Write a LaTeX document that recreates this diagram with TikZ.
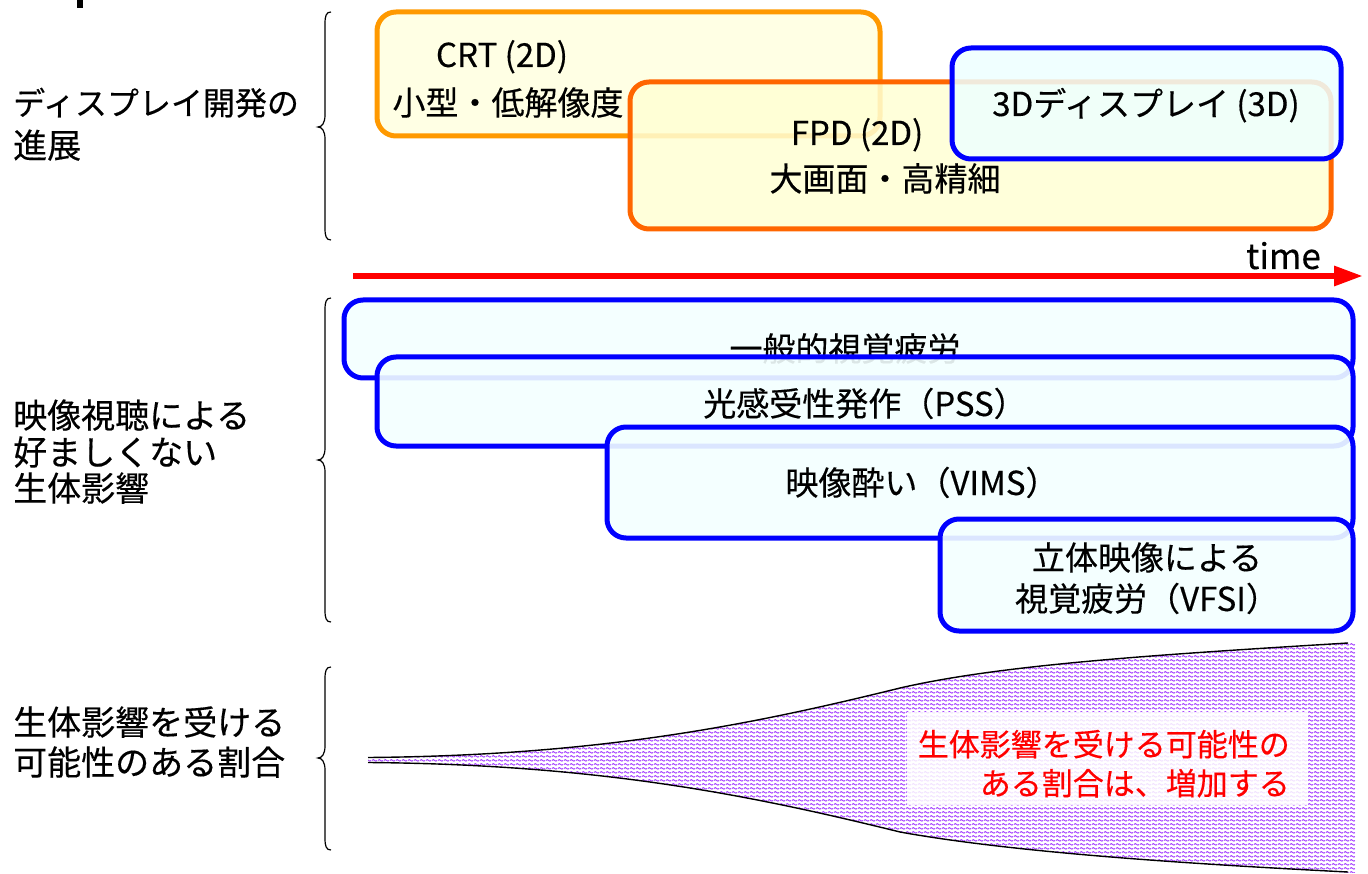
\documentclass[tikz,border=0pt]{standalone}
\usepackage{fontspec}
\setmainfont{Noto Sans CJK JP}[FakeBold=0.35]
\usetikzlibrary{arrows.meta,patterns}
\definecolor{crtline}{RGB}{255,153,0}
\definecolor{crtfill}{RGB}{255,255,228}
\definecolor{fpdline}{RGB}{255,102,0}
\definecolor{fpdfill}{RGB}{255,255,212}
\definecolor{bluel}{RGB}{0,0,255}
\definecolor{tdfill}{RGB}{238,255,255}
\definecolor{bfill}{RGB}{243,255,255}
\definecolor{wavec}{RGB}{160,55,255}
\definecolor{redt}{RGB}{255,0,0}
\pgfdeclarepatternformonly{wavy}{\pgfpointorigin}{\pgfqpoint{6pt}{4pt}}{\pgfqpoint{6pt}{4pt}}{%
  \pgfsetlinewidth{1.1pt}%
  \pgfpathmoveto{\pgfqpoint{0pt}{2pt}}%
  \pgfpathcurveto{\pgfqpoint{1pt}{3.3pt}}{\pgfqpoint{2pt}{3.3pt}}{\pgfqpoint{3pt}{2pt}}%
  \pgfpathcurveto{\pgfqpoint{4pt}{0.7pt}}{\pgfqpoint{5pt}{0.7pt}}{\pgfqpoint{6pt}{2pt}}%
  \pgfusepath{stroke}}
\begin{document}
\begin{tikzpicture}[x=1pt,y=-1pt,
  rbox/.style={draw, line width=5pt, rounded corners=19pt, inner sep=0pt, outer sep=0pt},
  crtbox/.style={rbox, draw=crtline, fill=crtfill},
  fpdbox/.style={rbox, draw=fpdline, fill=fpdfill, fill opacity=0.86, draw opacity=1},
  tdbox/.style={rbox, draw=bluel, fill=tdfill, fill opacity=0.86, draw opacity=1},
  bbox/.style={rbox, draw=bluel, fill=bfill, fill opacity=0.9, draw opacity=1},
  lbl/.style={anchor=base west, inner sep=0pt, font=\fontsize{34}{40}\selectfont},
  btxt/.style={anchor=base, inner sep=0pt, font=\fontsize{33}{40}\selectfont},
  rtxt/.style={anchor=base east, inner sep=0pt, text=redt, font=\fontsize{31}{40}\selectfont},
  bracel/.style={draw=black, line width=1.2pt},
  horn/.style={draw=black, line width=1.4pt},
  timearrow/.style={draw=redt, line width=6pt, -{Triangle[length=29pt,width=19pt]}}
]
\useasboundingbox (0,0) rectangle (1368,874);
\fill[black] (77,0) rectangle (83,8);

% left labels
\node[lbl, font=\fontsize{32}{40}\selectfont] (l1a) at (13,115) {ディスプレイ開発の};
\node[lbl] (l1b) at (13,158) {進展};
\node[lbl] (l2a) at (13,428) {映像視聴による};
\node[lbl] (l2b) at (13,465) {好ましくない};
\node[lbl] (l2c) at (13,501) {生体影響};
\node[lbl] (l3a) at (13,735) {生体影響を受ける};
\node[lbl] (l3b) at (13,775) {可能性のある割合};

% braces
\draw[bracel] (331,12) .. controls (326,12) and (325,16) .. (325,24) -- (325,115)
  .. controls (325,123) and (322,127) .. (318,127) .. controls (322,127) and (325,131) .. (325,139)
  -- (325,228) .. controls (325,236) and (326,240) .. (331,240);
\draw[bracel] (331,298) .. controls (326,298) and (325,302) .. (325,310) -- (325,448)
  .. controls (325,456) and (322,460) .. (318,460) .. controls (322,460) and (325,464) .. (325,472)
  -- (325,610) .. controls (325,618) and (326,622) .. (331,622);
\draw[bracel] (331,667) .. controls (326,667) and (325,671) .. (325,679) -- (325,746)
  .. controls (325,754) and (322,758) .. (318,758) .. controls (322,758) and (325,762) .. (325,770)
  -- (325,838) .. controls (325,846) and (326,850) .. (331,850);

% display development boxes
\node[crtbox, minimum width=503pt, minimum height=124pt] (crt) at (628.5,74) {};
\node[btxt] (crt1) at (502,67) {CRT (2D)};
\node[btxt] (crt2) at (508,115) {小型・低解像度};
\node[fpdbox, minimum width=701pt, minimum height=147pt] (fpd) at (980.5,155.5) {};
\node[btxt] (fpd1) at (857,145) {FPD (2D)};
\node[btxt] (fpd2) at (885,191) {大画面・高精細};
\node[tdbox, minimum width=389pt, minimum height=111pt] (td) at (1146.5,103.5) {};
\node[btxt] (td1) at (1146,116) {3Dディスプレイ (3D)};

% time arrow
\coordinate (ts) at (353,276);
\coordinate (te) at (1363,276);
\draw[timearrow] (ts) -- (te);
\node[anchor=base east, inner sep=0pt, font=\fontsize{35}{40}\selectfont] (time) at (1321,269) {time};

% effect boxes
\node[bbox, minimum width=1009pt, minimum height=78pt] (b1) at (848.5,339) {};
\node[btxt] (b1t) at (845,361) {一般的視覚疲労};
\node[bbox, minimum width=976pt, minimum height=89pt] (b2) at (865,401.5) {};
\node[btxt] (b2t) at (865,416) {光感受性発作（PSS）};
\node[bbox, minimum width=746pt, minimum height=111pt] (b3) at (980,482.5) {};
\node[btxt] (b3t) at (922,495) {映像酔い（VIMS）};
\node[bbox, minimum width=413pt, minimum height=112pt] (b4) at (1146.5,575) {};
\node[btxt] (b4a) at (1147,570) {立体映像による};
\node[btxt] (b4b) at (1147,611) {視覚疲労（VFSI）};

% horn shape
\fill[pattern=wavy, pattern color=wavec]
  (368,757.5) .. controls (600,755.5) and (750,725) .. (900,688)
  .. controls (1000,665) and (1150,655) .. (1355,643) -- (1355,873)
  .. controls (1150,862) and (1000,850) .. (900,832)
  .. controls (750,795) and (600,764.5) .. (368,762.5) -- cycle;
\draw[horn] (368,757.5) .. controls (600,755.5) and (750,725) .. (900,688)
  .. controls (1000,665) and (1150,655) .. (1348,643);
\draw[horn] (368,762.5) .. controls (600,764.5) and (750,795) .. (900,832)
  .. controls (1000,850) and (1150,862) .. (1348,872);
\fill[white, fill opacity=0.85] (907,712) rectangle (1308,805);
\node[rtxt] (r1) at (1290,756) {生体影響を受ける可能性の};
\node[rtxt] (r2) at (1290,795) {ある割合は、増加する};
\end{tikzpicture}
\end{document}
